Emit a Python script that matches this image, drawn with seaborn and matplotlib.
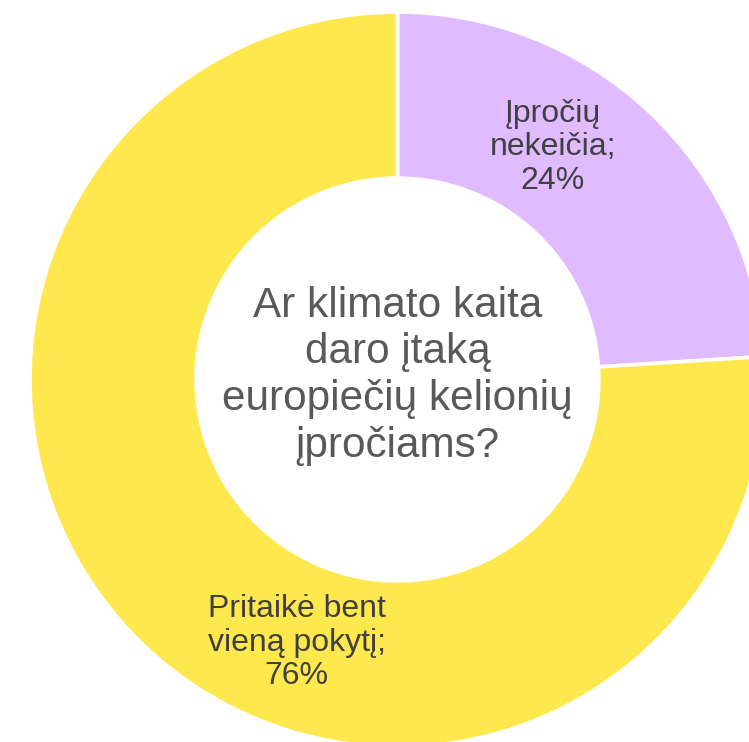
import matplotlib
matplotlib.use("Agg")
import matplotlib.pyplot as plt
import seaborn as sns

# Survey result: share of Europeans who changed travel habits because of climate change
categories = ["Įpročių\nnekeičia;", "Pritaikė bent\nvieną pokytį;"]
shares = [24, 76]
slice_colors = ["#E0BBFF", "#FFE84D"]
center_question = "Ar klimato kaita\ndaro įtaką\neuropiečių kelionių\nįpročiams?"

sns.set_theme(style="white")
plt.rcParams["font.family"] = ["Liberation Sans", "DejaVu Sans"]

fig = plt.figure(figsize=(7.49, 7.42), dpi=100)
ax = fig.add_axes([0, 0, 1, 1])

palette = sns.color_palette(slice_colors)
wedges, _ = ax.pie(
    shares,
    colors=palette,
    startangle=90,
    counterclock=False,
    radius=1.0,
    wedgeprops=dict(width=0.452, edgecolor="white", linewidth=2.6),
)

# Frame the ring so it bleeds slightly off the right and bottom edges
ax.set_xlim(-1.0816, 0.9565)
ax.set_ylim(-0.9864, 1.0327)
ax.set_aspect("auto")
ax.axis("off")

label_pos = [(0.423, 0.632), (-0.274, -0.716)]
for cat, val, (x, y) in zip(categories, shares, label_pos):
    ax.text(x, y, f"{cat}\n{val}%", ha="center", va="center",
            fontsize=23, color="#404040", linespacing=1.16)

ax.text(0.0, 0.01, center_question, ha="center", va="center",
        fontsize=30.4, color="#595959", linespacing=1.22)

fig.savefig("out.png", dpi=100)
